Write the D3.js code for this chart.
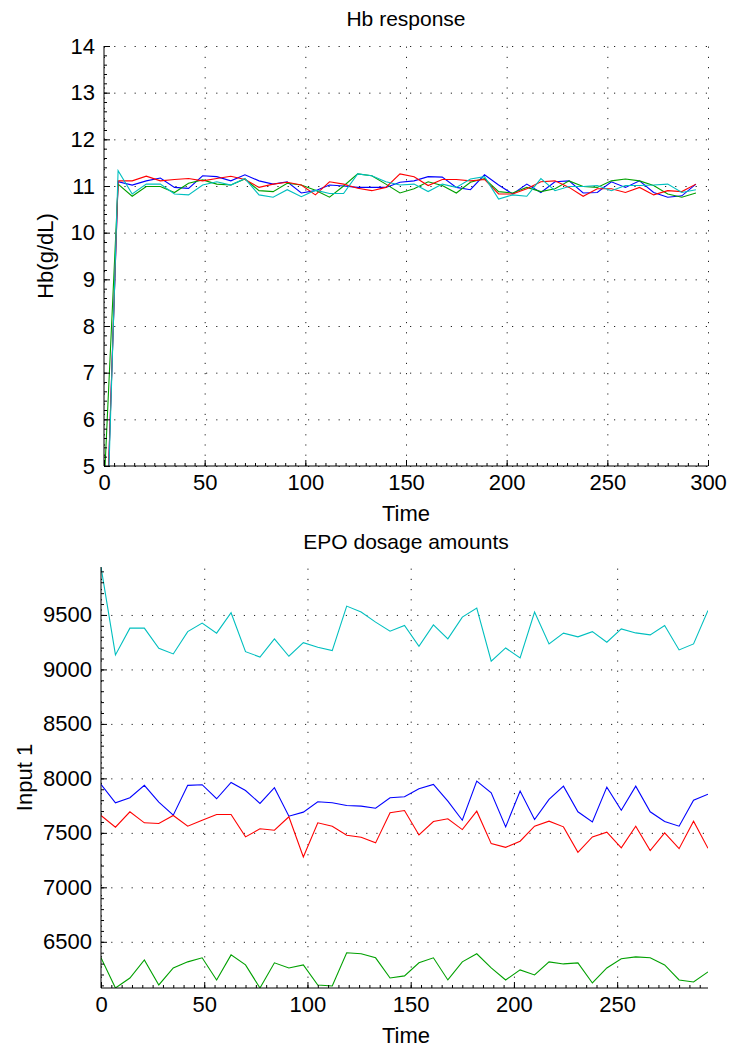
<!DOCTYPE html>
<html>
<head>
<meta charset="utf-8">
<script src="https://cdn.jsdelivr.net/npm/d3@7"></script>
<style>
  body { margin: 0; background: #fff; }
  svg { display: block; font-family: "Liberation Sans", Arial, sans-serif; }
  .grid line { stroke: #222; stroke-width: 1; stroke-dasharray: 1.2,9; }
  .grid path { display: none; }
  .ax path, .ax line { stroke: #000; stroke-width: 1; }
  .ax text { font-size: 22px; fill: #000; }
</style>
</head>
<body>
<div id="chart"></div>
<script>
// sample times (every 7 time units)
var time = [0,7,14,21,28,35,42,49,56,63,70,77,84,91,98,105,112,119,126,133,140,
  147,154,161,168,175,182,189,196,203,210,217,224,231,238,245,252,259,266,273,280,287,294];

// Hb response (g/dL)
var hbBlue = [2.0,11.09,11.02,11.11,11.17,10.97,10.95,11.22,11.2,11.11,11.24,11.11,11.04,11.09,10.85,10.9,11.02,11.0,10.97,10.97,10.97,
  11.08,11.11,11.2,11.19,10.97,10.92,11.24,11.02,10.83,11.04,10.86,11.09,11.11,10.85,10.86,11.09,10.97,11.11,10.86,10.76,10.79,11.04];
var hbGreen = [4.5,11.04,10.78,10.99,10.99,10.86,11.06,11.13,11.04,11.02,11.15,10.9,10.88,11.06,11.02,10.91,10.76,11.0,11.26,11.22,11.04,
  10.85,10.94,11.09,11.01,10.85,11.08,11.16,10.88,10.85,10.97,10.88,10.94,11.11,10.99,10.97,11.11,11.15,11.11,11.01,10.83,10.76,10.85];
var hbRed = [2.0,11.11,11.11,11.21,11.11,11.14,11.16,11.11,11.16,11.21,11.14,10.97,11.04,11.08,11.02,10.81,11.09,11.04,10.95,10.9,10.97,
  11.26,11.2,11.01,11.14,11.14,11.11,11.14,10.83,10.83,10.94,11.09,11.11,10.97,10.78,10.94,10.94,10.86,10.97,10.81,10.9,10.88,11.04];
var hbCyan = [1.5,11.33,10.83,11.04,11.04,10.83,10.81,11.02,11.09,11.02,11.16,10.81,10.76,10.92,10.77,10.91,10.84,10.84,11.26,11.22,11.09,
  11.02,11.04,10.88,11.04,10.97,11.15,11.2,10.72,10.81,10.78,11.16,10.9,10.99,10.99,11.01,10.9,11.01,11.01,11.02,11.04,10.86,10.92];

// EPO dosage amounts
var epoBlue = [7945,7776,7822,7936,7782,7662,7936,7942,7813,7963,7889,7770,7914,7653,7690,7785,7776,7751,7745,7726,7822,
  7831,7905,7945,7791,7616,7975,7868,7555,7883,7622,7807,7929,7693,7601,7920,7708,7929,7693,7604,7561,7800,7855];
var epoGreen = [6353,6076,6168,6334,6104,6260,6316,6353,6150,6380,6288,6076,6307,6260,6288,6104,6095,6399,6390,6353,6168,
  6187,6307,6353,6150,6316,6390,6260,6150,6242,6196,6316,6297,6307,6122,6260,6344,6362,6353,6288,6150,6131,6224];
var epoRed = [7659,7552,7693,7592,7586,7659,7561,7616,7668,7668,7463,7537,7524,7647,7279,7592,7561,7478,7459,7408,7684,
  7705,7481,7604,7629,7530,7699,7401,7367,7423,7561,7607,7555,7321,7463,7506,7362,7561,7337,7500,7355,7607,7358];
var epoCyan = [9940,9133,9379,9379,9194,9142,9347,9425,9333,9520,9163,9114,9280,9121,9246,9204,9173,9581,9526,9434,9351,
  9403,9213,9409,9280,9480,9563,9075,9197,9105,9526,9234,9333,9299,9347,9250,9372,9335,9317,9403,9179,9234,9541];

var hbTicksX = [0,50,100,150,200,250,300];
var hbTicksY = [5,6,7,8,9,10,11,12,13,14];
var epoTicksX = [0,50,100,150,200,250];
var epoTicksY = [6500,7000,7500,8000,8500,9000,9500];

var colors = {blue: "#0000ff", green: "#00a000", red: "#ff0000", cyan: "#00bfbf"};

var svg = d3.select("#chart").append("svg").attr("width", 733).attr("height", 1051);

function panel(o) {
  var x = d3.scaleLinear().domain(o.xDomain).range([o.left, o.right]);
  var y = d3.scaleLinear().domain(o.yDomain).range([o.bottom, o.top]);
  var g = svg.append("g");

  // dotted grid
  g.append("g").attr("class", "grid")
    .attr("transform", "translate(0," + o.bottom + ")")
    .call(d3.axisBottom(x).tickValues(o.xTicks).tickSize(-(o.bottom - o.top)).tickFormat(""));
  g.append("g").attr("class", "grid")
    .attr("transform", "translate(" + o.left + ",0)")
    .call(d3.axisLeft(y).tickValues(o.yTicks).tickSize(-(o.right - o.left)).tickFormat(""));

  // data lines
  var clipId = "clip" + o.id;
  svg.append("clipPath").attr("id", clipId).append("rect")
    .attr("x", o.left).attr("y", o.top).attr("width", o.right - o.left).attr("height", o.bottom - o.top);
  var line = d3.line().x(function(d, i) { return x(time[i]); }).y(function(d) { return y(d); });
  o.series.forEach(function(s) {
    g.append("path").attr("clip-path", "url(#" + clipId + ")")
      .attr("d", line(s.values)).attr("fill", "none")
      .attr("stroke", s.color).attr("stroke-width", 1.1);
  });

  // minor ticks (inward)
  g.append("g").attr("class", "ax")
    .attr("transform", "translate(0," + o.bottom + ")")
    .call(d3.axisBottom(x).tickValues(o.xMinor).tickSize(-3).tickFormat(""))
    .select(".domain").remove();
  g.append("g").attr("class", "ax")
    .attr("transform", "translate(" + o.left + ",0)")
    .call(d3.axisLeft(y).tickValues(o.yMinor).tickSize(-3).tickFormat(""))
    .select(".domain").remove();

  // major ticks + labels
  var ax = g.append("g").attr("class", "ax")
    .attr("transform", "translate(0," + o.bottom + ")")
    .call(d3.axisBottom(x).tickValues(o.xTicks).tickSize(-6).tickSizeOuter(0).tickPadding(8).tickFormat(d3.format("d")));
  ax.select(".domain").attr("d", "M" + o.left + ",0H" + o.right);
  var ay = g.append("g").attr("class", "ax")
    .attr("transform", "translate(" + o.left + ",0)")
    .call(d3.axisLeft(y).tickValues(o.yTicks).tickSize(-6).tickSizeOuter(0).tickPadding(o.yPad).tickFormat(d3.format("d")));
  ay.select(".domain").attr("d", "M0," + o.bottom + "V" + o.top);

  // texts
  svg.append("text").attr("x", 406).attr("y", o.titleY).attr("text-anchor", "middle")
    .style("font-size", "21px").text(o.title);
  svg.append("text").attr("x", 406).attr("y", o.xLabelY).attr("text-anchor", "middle")
    .style("font-size", "22px").text("Time");
  svg.append("text").attr("transform", "translate(" + o.yLabelX + "," + ((o.top + o.bottom) / 2) + ") rotate(-90)")
    .attr("text-anchor", "middle").style("font-size", "22px").text(o.yLabel);
}

function range(a, b, step) {
  var r = [];
  for (var v = a; v <= b + 1e-9; v += step) r.push(+v.toFixed(4));
  return r;
}

panel({
  id: 1, left: 104, right: 708, top: 46, bottom: 466,
  xDomain: [0, 300], yDomain: [5, 14],
  xTicks: hbTicksX, yTicks: hbTicksY,
  xMinor: range(0, 300, 5), yMinor: range(5, 14, 0.2), yPad: 9,
  title: "Hb response", titleY: 26, xLabelY: 521, yLabel: "Hb(g/dL)", yLabelX: 53,
  series: [
    {values: hbBlue, color: colors.blue},
    {values: hbGreen, color: colors.green},
    {values: hbRed, color: colors.red},
    {values: hbCyan, color: colors.cyan}
  ]
});

panel({
  id: 2, left: 101, right: 708, top: 567, bottom: 988,
  xDomain: [0, 294], yDomain: [6076, 9940],
  xTicks: epoTicksX, yTicks: epoTicksY,
  xMinor: range(0, 290, 5), yMinor: range(6100, 9900, 100), yPad: 9,
  title: "EPO dosage amounts", titleY: 549, xLabelY: 1043, yLabel: "Input 1", yLabelX: 32,
  series: [
    {values: epoBlue, color: colors.blue},
    {values: epoGreen, color: colors.green},
    {values: epoRed, color: colors.red},
    {values: epoCyan, color: colors.cyan}
  ]
});
</script>
</body>
</html>
